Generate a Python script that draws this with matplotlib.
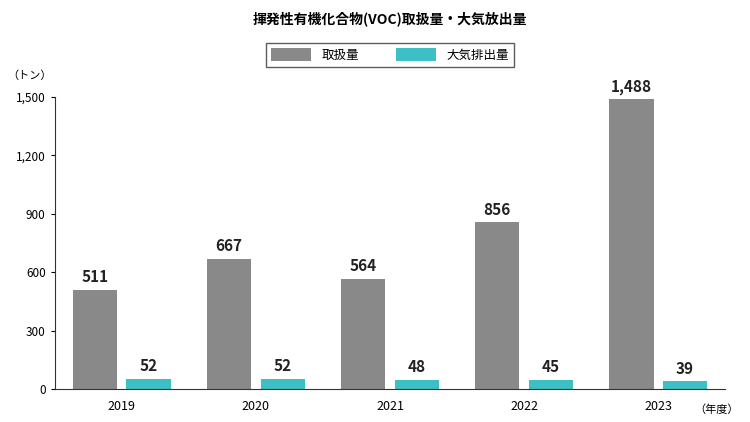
import matplotlib
matplotlib.use("Agg")
import matplotlib.pyplot as plt
import numpy as np

plt.rcParams["font.family"] = "Noto Sans CJK JP"

years = ["2019", "2020", "2021", "2022", "2023"]
handled = [511, 667, 564, 856, 1488]
emitted = [52, 52, 48, 45, 39]
yticks = [0, 300, 600, 900, 1200, 1500]

fig = plt.figure(figsize=(7.5, 4.22), dpi=100)
ax = fig.add_axes([0.073, 0.078, 0.894, 0.692])
x = np.arange(len(years))
w = 0.33
b1 = ax.bar(x - 0.2, handled, w, color="#898989", label="取扱量")
b2 = ax.bar(x + 0.2, emitted, w, color="#3dbfc6", label="大気排出量")
for bars in (b1, b2):
    for r in bars:
        ax.text(r.get_x() + r.get_width() / 2, r.get_height() + 25, f"{int(r.get_height()):,}",
                ha="center", va="bottom", fontsize=11, fontweight="bold", color="#222222")
ax.set_xlim(-0.5, 4.5)
ax.set_ylim(0, 1500)
ax.set_yticks(yticks)
ax.set_yticklabels([f"{v:,}" for v in yticks], fontsize=8.5)
ax.set_xticks(x)
ax.set_xticklabels(years, fontsize=9)
ax.tick_params(axis="x", length=0, pad=8)
ax.tick_params(axis="y", length=3)
for s in ["top", "right"]:
    ax.spines[s].set_visible(False)
ax.spines["left"].set_color("#333333")
ax.spines["bottom"].set_color("#333333")

fig.text(0.52, 0.955, "揮発性有機化合物(VOC)取扱量・大気放出量", ha="center", va="center",
         fontsize=10, fontweight="bold")
fig.text(0.04, 0.82, "（トン）", ha="center", va="center", fontsize=8)
fig.text(0.955, 0.03, "（年度）", ha="center", va="center", fontsize=8)
fig.legend(handles=[b1, b2], loc="center", bbox_to_anchor=(0.52, 0.87), ncol=2,
           frameon=True, fancybox=False, edgecolor="#333333", fontsize=9,
           handlelength=3.2, handleheight=1.2, columnspacing=3)
fig.savefig("out.png", dpi=100)
